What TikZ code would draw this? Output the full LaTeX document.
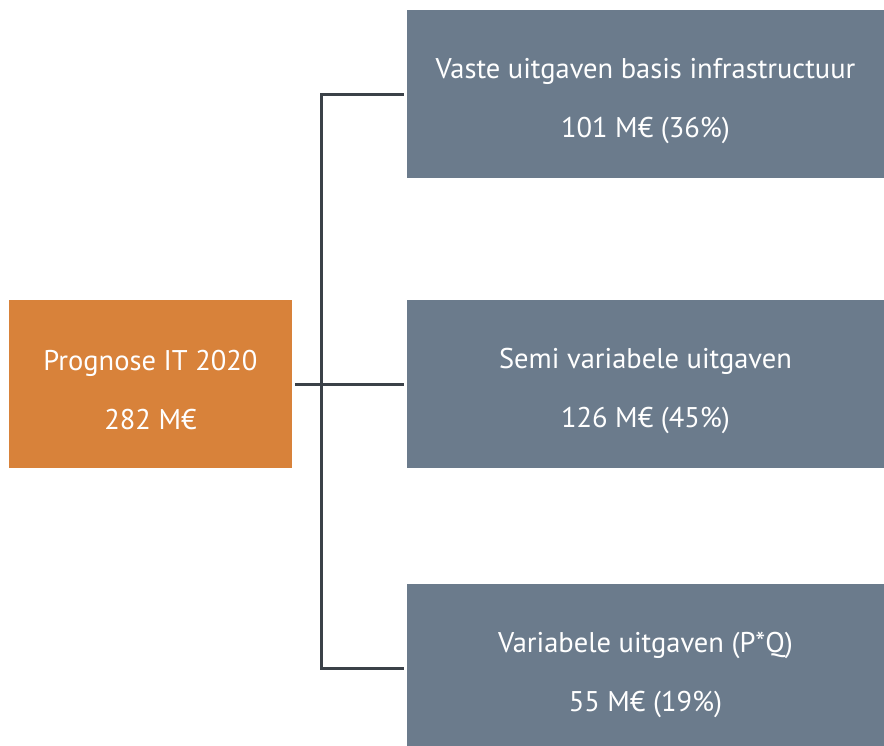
\documentclass[tikz,border=0pt]{standalone}
\usepackage{fontspec}
\setmainfont{PT Sans}
\usepackage{tikz}
\definecolor{progorange}{HTML}{D8823A}
\definecolor{slate}{HTML}{6B7B8C}
\definecolor{lijn}{HTML}{3B4148}
\newcommand{\regelsteun}{\rule[-3pt]{0pt}{37pt}}
\tikzset{
	blok/.style={minimum width=477pt, minimum height=168pt, fill=slate, text=white, align=center, inner sep=0pt, font=\fontsize{28.5}{59}\selectfont},
	conn/.style={line width=3pt, color=lijn}
}

\begin{document}
\begin{tikzpicture}[x=1pt, y=-1pt]
		%%%%% START %%%%%
		
		\useasboundingbox (0, 0) rectangle (884, 745);
		\fill[white] (0, 0) rectangle (884, 745);
		
		\node[blok, fill=progorange, minimum width=283pt] (prog) at (150.5, 384) {\regelsteun Prognose IT 2020\\282 M€\regelsteun};
		
		\node[blok] (vast) at (645.5, 94) {\regelsteun Vaste uitgaven basis infrastructuur\\101 M€ (36\%)\regelsteun};
		\node[blok] (semi) at (645.5, 384) {\regelsteun Semi variabele uitgaven\\126 M€ (45\%)\regelsteun};
		\node[blok] (var) at (645.5, 668) {\regelsteun Variabele uitgaven (P*Q)\\55 M€ (19\%)\regelsteun};
		
		\coordinate (jct) at (321, 384);
		
		\draw[conn] ([xshift=3pt]prog.east) -- (jct);
		\draw[conn] ([xshift=-3pt]semi.west) -- (jct);
		\draw[conn] ([xshift=-3pt]vast.west) -| (jct);
		\draw[conn] ([xshift=-3pt]var.west) -| (jct);
		
		%%%%% END %%%%%
\end{tikzpicture}
\end{document}
